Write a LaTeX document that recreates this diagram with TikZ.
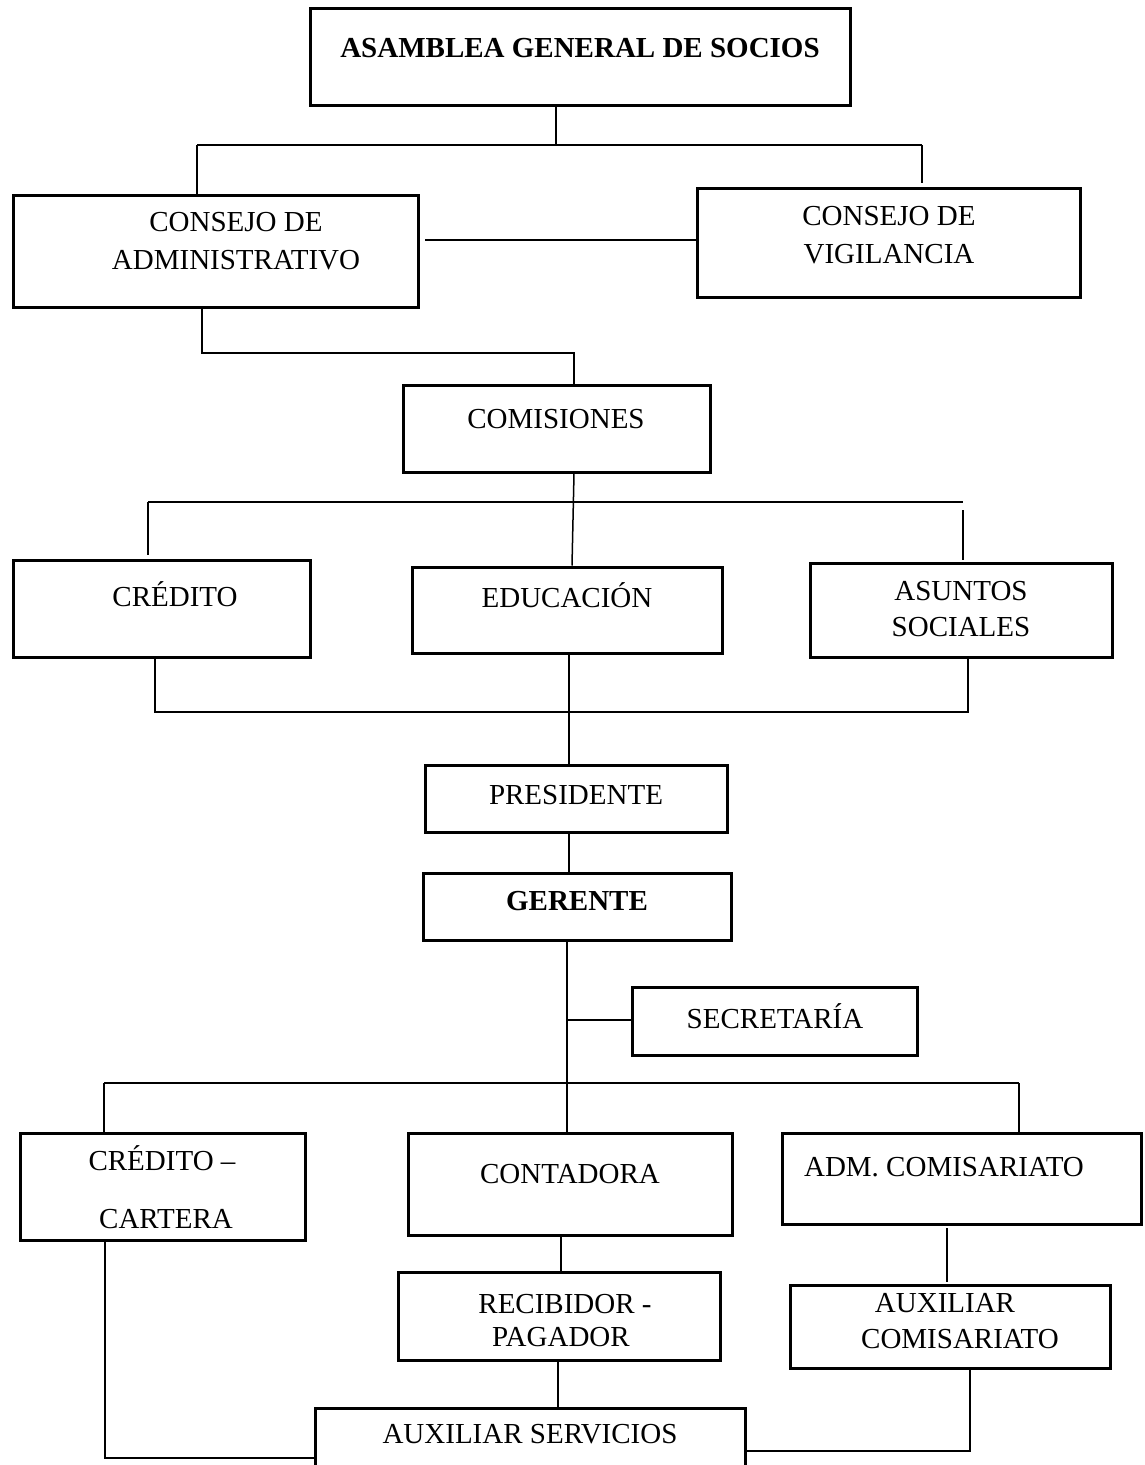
\documentclass[tikz,border=0pt]{standalone}
\usepackage{fontspec}
\setmainfont{Liberation Serif}
\usetikzlibrary{fit,calc}
\begin{document}
\begin{tikzpicture}[x=1pt,y=-1pt,
  box/.style={draw, line width=3pt, inner sep=0pt},
  lbl/.style={font=\fontsize{29}{36}\selectfont, inner sep=0pt, text height=19.5pt, text depth=0pt},
  bold/.style={font=\bfseries\fontsize{29}{36}\selectfont},
  wire/.style={line width=1.5pt}]
\useasboundingbox (0,0) rectangle (1145,1465);
\clip (0,0) rectangle (1145,1465);

% boxes
\node[box, fit={(310,8) (850,105)}]     (asam) {};
\node[box, fit={(13,195) (418,307)}]    (cadm) {};
\node[box, fit={(697,188) (1080,297)}]  (cvig) {};
\node[box, fit={(403,385) (710,472)}]   (comi) {};
\node[box, fit={(13,560) (310,657)}]    (cred) {};
\node[box, fit={(412,567) (722,653)}]   (educ) {};
\node[box, fit={(810,563) (1112,657)}]  (asun) {};
\node[box, fit={(425,765) (727,832)}]   (pres) {};
\node[box, fit={(423,873) (731,940)}]   (ger)  {};
\node[box, fit={(632,987) (917,1055)}]  (secr) {};
\node[box, fit={(20,1133) (305,1240)}]  (ccar) {};
\node[box, fit={(408,1133) (732,1235)}] (cont) {};
\node[box, fit={(782,1133) (1141,1224)}] (adm) {};
\node[box, fit={(398,1272) (720,1360)}] (reci) {};
\node[box, fit={(790,1285) (1110,1368)}] (auxc) {};
\node[box, fit={(315,1408) (745,1495)}] (auxs) {};

% labels
\node[lbl,bold] (asam-t) at (580,48) {ASAMBLEA GENERAL DE SOCIOS};
\node[lbl] (cadm-t1) at (236,222) {CONSEJO DE};
\node[lbl] (cadm-t2) at (236,260) {ADMINISTRATIVO};
\node[lbl] (cvig-t1) at (889,216) {CONSEJO DE};
\node[lbl] (cvig-t2) at (889,254) {VIGILANCIA};
\node[lbl] (comi-t) at (556,419) {COMISIONES};
\node[lbl] (cred-t) at (175,597) {CRÉDITO};
\node[lbl] (educ-t) at (567,598) {EDUCACIÓN};
\node[lbl] (asun-t1) at (961,591) {ASUNTOS};
\node[lbl] (asun-t2) at (961,627) {SOCIALES};
\node[lbl] (pres-t) at (576,795) {PRESIDENTE};
\node[lbl,bold] (ger-t) at (577,901) {GERENTE};
\node[lbl] (secr-t) at (775,1019) {SECRETARÍA};
\node[lbl] (ccar-t1) at (162,1161) {CRÉDITO –};
\node[lbl] (ccar-t2) at (166,1219) {CARTERA};
\node[lbl] (cont-t) at (570,1174) {CONTADORA};
\node[lbl] (adm-t) at (944,1167) {ADM. COMISARIATO};
\node[lbl] (reci-t1) at (565,1304) {RECIBIDOR -};
\node[lbl] (reci-t2) at (561,1337) {PAGADOR};
\node[lbl] (auxc-t1) at (945,1303) {AUXILIAR};
\node[lbl] (auxc-t2) at (960,1339) {COMISARIATO};
\node[lbl] (auxs-t) at (530,1434) {AUXILIAR SERVICIOS};

% junction points
\coordinate (j1) at (556,145);
\coordinate (j1l) at (197,145);
\coordinate (j1r) at (922,145);
\coordinate (j1re) at (922,183);
\coordinate (h1) at (425,240);
\coordinate (j2a) at (202,353);
\coordinate (j2b) at (574,353);
\coordinate (j3) at (574,502);
\coordinate (j3l) at (148,502);
\coordinate (j3le) at (148,555);
\coordinate (j3r) at (963,502);
\coordinate (j3rs) at (963,510);
\coordinate (j3re) at (963,560);
\coordinate (j4l) at (155,712);
\coordinate (j4r) at (968,712);
\coordinate (j5) at (567,1020);
\coordinate (j6) at (567,1083);
\coordinate (j6l) at (104,1083);
\coordinate (j6r) at (1019,1083);
\coordinate (j7) at (947,1228);
\coordinate (j7e) at (947,1282);
\coordinate (j8) at (558,1362);
\coordinate (j9) at (105,1458);
\coordinate (j10) at (970,1451);

% connectors
\draw[wire] (asam.south -| j1) -- (j1);
\draw[wire] (j1l) -- (j1r);
\draw[wire] (j1l) -- (cadm.north -| j1l);
\draw[wire] (j1r) -- (j1re);
\draw[wire] (h1) -- (cvig.west |- h1);
\draw[wire] (cadm.south -| j2a) -- (j2a) -- (j2b) -- (comi.north -| j2b);
\draw[wire] (comi.south -| j3) -- (educ.north -| 572,0);
\draw[wire] (j3l) -- (j3r);
\draw[wire] (j3l) -- (j3le);
\draw[wire] (j3rs) -- (j3re);
\draw[wire] (cred.south -| j4l) -- (j4l) -- (j4r) -- (asun.south -| j4r);
\draw[wire] (educ.south -| 569,0) -- (pres.north -| 569,0);
\draw[wire] (pres.south -| 569,0) -- (ger.north -| 569,0);
\draw[wire] (ger.south -| j5) -- (cont.north -| j5);
\draw[wire] (j5) -- (secr.west |- j5);
\draw[wire] (j6l) -- (j6r);
\draw[wire] (j6l) -- (ccar.north -| j6l);
\draw[wire] (j6r) -- (adm.north -| j6r);
\draw[wire] (cont.south -| 561,0) -- (reci.north -| 561,0);
\draw[wire] (j7) -- (j7e);
\draw[wire] (j8) -- (auxs.north -| j8);
\draw[wire] (ccar.south -| j9) -- (j9) -- (auxs.west |- j9);
\draw[wire] (auxc.south -| j10) -- (j10) -- (auxs.east |- j10);
\end{tikzpicture}
\end{document}
